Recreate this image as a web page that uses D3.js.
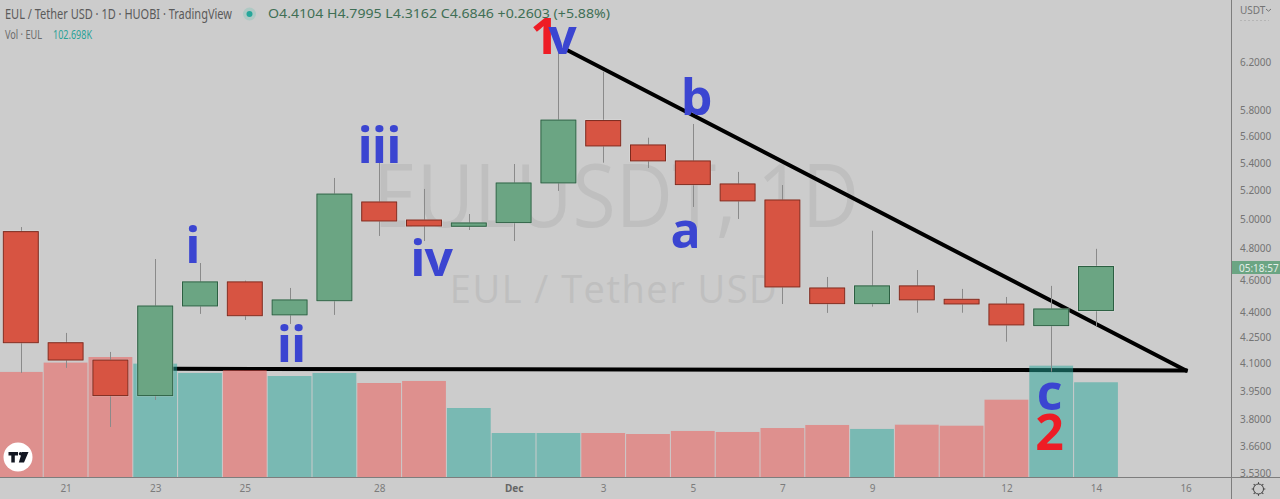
<!DOCTYPE html>
<html>
<head>
<meta charset="utf-8">
<script src="https://cdn.jsdelivr.net/npm/d3@7"></script>
<style>
html, body { margin: 0; padding: 0; background: #cccccc; overflow: hidden; }
svg { display: block; font-family: "Noto Sans", sans-serif; }
</style>
</head>
<body>
<svg></svg>
<script>
var width = 1280, height = 499;

// one candle per day, Nov 20 to Dec 14
var open   = [4.914, 4.220, 4.121, 3.925, 4.438, 4.587, 4.384, 4.470, 5.118, 4.993, 4.950, 4.975, 5.253, 5.722, 5.534, 5.414, 5.246, 5.132, 4.549, 4.452, 4.562, 4.479, 4.450, 4.320, 4.4104];
var high   = [4.945, 4.277, 4.167, 4.733, 4.707, 4.595, 4.549, 5.289, 5.399, 5.210, 5.034, 5.391, 6.320, 6.118, 5.589, 5.695, 5.333, 5.238, 4.618, 4.920, 4.662, 4.543, 4.493, 4.562, 4.7995];
var low    = [4.049, 4.077, 3.760, 3.902, 4.390, 4.354, 4.330, 4.384, 4.885, 4.851, 4.925, 4.851, 5.196, 5.401, 5.362, 5.083, 5.000, 4.450, 4.396, 4.434, 4.397, 4.397, 4.226, 4.056, 4.3162];
var close  = [4.220, 4.121, 3.925, 4.438, 4.587, 4.379, 4.475, 5.174, 4.986, 4.952, 4.973, 5.253, 5.726, 5.526, 5.414, 5.241, 5.125, 4.555, 4.452, 4.562, 4.475, 4.450, 4.324, 4.420, 4.6846];
var volume = [113.9, 124.0, 130.1, 122.9, 112.8, 116.0, 109.5, 112.8, 101.9, 104.1, 74.8, 47.7, 47.7, 47.7, 46.6, 49.9, 48.8, 53.1, 56.4, 52.1, 56.7, 55.6, 83.8, 120.7, 102.698];
// volume colour
var volumeUp = [0, 0, 0, 1, 1, 0, 1, 1, 0, 0, 1, 1, 1, 0, 0, 0, 0, 0, 0, 1, 0, 0, 0, 1, 1];

var priceTicks = [6.2, 5.8, 5.6, 5.4, 5.2, 5.0, 4.8, 4.6, 4.4, 4.25, 4.1, 3.95, 3.8, 3.66, 3.53];
var dayTicks = [1, 3, 5, 8, 11, 13, 15, 17, 19, 22, 24, 26];
var dayLabels = ["21", "23", "25", "28", "Dec", "3", "5", "7", "9", "12", "14", "16"];

// hand drawn trend lines, [day index, price]
var topLine = [[12.19, 6.303], [26, 4.063]];
var baseLine = [[3.4, 4.072], [26, 4.063]];

var red = "#d75442", redEdge = "#7c2a1e", green = "#6ba583", greenEdge = "#2c5f42";

var svg = d3.select("svg").attr("width", width).attr("height", height);

var x = d3.scaleLinear().domain([0, 26]).range([20.8, 1185.6]);
var y = d3.scaleLog().domain([3.53, 6.2]).range([473, 62]);
var yVol = d3.scaleLinear().domain([0, 130.1]).range([477, 357]);

svg.append("rect").attr("width", width).attr("height", height).attr("fill", "#cccccc");

// watermark
svg.append("text").attr("x", 373).attr("y", 227)
    .attr("font-family", "Open Sans").attr("font-size", 88).attr("fill", "#bfbfbf")
    .attr("textLength", 486).attr("lengthAdjust", "spacingAndGlyphs")
    .text("EULUSDT, 1D");
svg.append("text").attr("x", 614).attr("y", 303).attr("text-anchor", "middle")
    .attr("font-family", "Open Sans").attr("font-size", 38).attr("fill", "#bfbfbf")
    .attr("letter-spacing", 1.5)
    .text("EUL / Tether USD");

// trend lines go under the volume bars
var line = d3.line().x(function(d){ return x(d[0]); }).y(function(d){ return y(d[1]); });
[topLine, baseLine].forEach(function(l){
    svg.append("path").attr("d", line(l)).attr("fill", "none")
        .attr("stroke", "#000").attr("stroke-width", 4).attr("stroke-linecap", "square");
});

var days = d3.range(open.length);
var barW = x(1) - x(0);

svg.selectAll("rect.vol").data(days).enter().append("rect")
    .attr("class", "vol")
    .attr("x", function(i){ return x(i) - barW / 2 + 0.5; })
    .attr("width", barW - 1)
    .attr("y", function(i){ return yVol(volume[i]); })
    .attr("height", function(i){ return yVol(0) - yVol(volume[i]); })
    .attr("fill", function(i){ return volumeUp[i] ? "#26a69a" : "#ef5350"; })
    .attr("fill-opacity", 0.5);

svg.selectAll("line.wick").data(days).enter().append("line")
    .attr("class", "wick")
    .attr("x1", function(i){ return Math.round(x(i)) + 0.5; })
    .attr("x2", function(i){ return Math.round(x(i)) + 0.5; })
    .attr("y1", function(i){ return y(high[i]); })
    .attr("y2", function(i){ return y(low[i]); })
    .attr("stroke", "#8a8a8a").attr("stroke-width", 1);

var bodyW = 35;
// pale halo round every body
svg.selectAll("rect.halo").data(days).enter().append("rect")
    .attr("class", "halo")
    .attr("x", function(i){ return x(i) - bodyW / 2 - 1; })
    .attr("width", bodyW + 2)
    .attr("y", function(i){ return y(Math.max(open[i], close[i])) - 1; })
    .attr("height", function(i){ return Math.abs(y(open[i]) - y(close[i])) + 2; })
    .attr("fill", "#fff").attr("fill-opacity", 0.35);
svg.selectAll("rect.body").data(days).enter().append("rect")
    .attr("class", "body")
    .attr("x", function(i){ return x(i) - bodyW / 2; })
    .attr("width", bodyW)
    .attr("y", function(i){ return y(Math.max(open[i], close[i])); })
    .attr("height", function(i){ return Math.abs(y(open[i]) - y(close[i])); })
    .attr("fill", function(i){ return close[i] >= open[i] ? green : red; })
    .attr("stroke", function(i){ return close[i] >= open[i] ? greenEdge : redEdge; })
    .attr("stroke-width", 1);

// wave labels
var blue = "#3b45d1";
var marks = [
    ["i", 192.5, 263, blue], ["ii", 291, 362, blue], ["iii", 379, 163, blue], ["iv", 431, 276, blue],
    ["1", 544, 54, "#ee1c25"], ["v", 562, 54, blue], ["b", 696, 115, blue], ["a", 685, 248, blue],
    ["c", 1049, 410, blue], ["2", 1049, 450, "#ee1c25"]
];
svg.selectAll("text.mark").data(marks).enter().append("text")
    .attr("class", "mark")
    .attr("x", function(d){ return d[1]; })
    .attr("y", function(d){ return d[2]; })
    .attr("text-anchor", "middle")
    .attr("font-family", "Open Sans").attr("font-weight", 700).attr("font-size", 50)
    .attr("letter-spacing", -1)
    .attr("fill", function(d){ return d[3]; })
    .text(function(d){ return d[0]; });

// TradingView badge
var badge = svg.append("g").attr("transform", "translate(18,457)");
badge.append("circle").attr("r", 14.5).attr("fill", "#fff");
badge.append("path").attr("fill", "#131722")
    .attr("d", "M-9.5,-5H0V-1.4H-3.2V5.5H-6.7V-1.4H-9.5Z M4,-5H10.5L6,5.5H0.8Z");
badge.append("circle").attr("cx", 2.6).attr("cy", -3.2).attr("r", 1.8).attr("fill", "#131722");

// axes panels
svg.append("rect").attr("x", 0).attr("y", 477).attr("width", width).attr("height", 22).attr("fill", "#cccccc");
svg.append("line").attr("x1", 0).attr("x2", width).attr("y1", 477.5).attr("y2", 477.5).attr("stroke", "#7d7d7d");
svg.append("line").attr("x1", 1231.5).attr("x2", 1231.5).attr("y1", 0).attr("y2", height).attr("stroke", "#7d7d7d");

var xAxis = svg.append("g").attr("transform", "translate(0,489)")
    .call(d3.axisBottom(x).tickValues(dayTicks).tickSize(0).tickPadding(0)
        .tickFormat(function(d, i){ return dayLabels[i]; }));
xAxis.select(".domain").remove();
xAxis.selectAll("text").attr("dy", "0.32em").attr("font-family", "Noto Sans").attr("font-size", 10)
    .attr("fill", "#7b7b7b")
    .filter(function(d){ return d === 11; }).attr("font-weight", 700).attr("fill", "#666");

var yAxis = svg.append("g").attr("transform", "translate(1231,0)")
    .call(d3.axisRight(y).tickValues(priceTicks).tickSize(0).tickPadding(9)
        .tickFormat(d3.format(".4f")));
yAxis.select(".domain").remove();
yAxis.selectAll("text").attr("font-family", "Noto Sans").attr("font-size", 10).attr("fill", "#747474");
// 3.5300 is cut by the time axis
svg.append("rect").attr("x", 1232).attr("y", 478).attr("width", 48).attr("height", 21).attr("fill", "#cccccc");

svg.append("text").attr("x", 1240).attr("y", 14).attr("font-size", 10).attr("fill", "#747474").text("USDT");
svg.append("path").attr("d", "M1266,9l2.5,2.2l2.5,-2.2").attr("fill", "none").attr("stroke", "#747474");
svg.append("line").attr("x1", 1240).attr("x2", 1269).attr("y1", 20.5).attr("y2", 20.5)
    .attr("stroke", "#b5b5b5").attr("stroke-dasharray", "2,2");

// countdown tag
svg.append("rect").attr("x", 1232).attr("y", 261).attr("width", 48).attr("height", 13).attr("fill", "#6ba583");
svg.append("text").attr("x", 1239).attr("y", 272).attr("font-size", 10).attr("fill", "#e3eee8").text("05:18:57");

// gear
var gear = svg.append("g").attr("transform", "translate(1258.5,489)");
gear.append("circle").attr("r", 5).attr("fill", "none").attr("stroke", "#444").attr("stroke-width", 1);
d3.range(8).forEach(function(k){
    gear.append("line").attr("x1", 5).attr("x2", 6.8).attr("stroke", "#444")
        .attr("transform", "rotate(" + k * 45 + ")");
});

// legend
svg.append("text").attr("x", 5).attr("y", 19).attr("font-size", 14.5).attr("fill", "#5a5a5a")
    .attr("textLength", 227).attr("lengthAdjust", "spacingAndGlyphs")
    .text("EUL / Tether USD · 1D · HUOBI · TradingView");
svg.append("circle").attr("cx", 249.5).attr("cy", 14).attr("r", 6.5).attr("fill", "#aec9c4");
svg.append("circle").attr("cx", 249.5).attr("cy", 14).attr("r", 3).attr("fill", "#26a69a");
svg.append("text").attr("x", 268).attr("y", 18).attr("font-size", 12).attr("fill", "#3f6f55")
    .attr("textLength", 342).attr("lengthAdjust", "spacingAndGlyphs")
    .text("O4.4104 H4.7995 L4.3162 C4.6846 +0.2603 (+5.88%)");
svg.append("text").attr("x", 5).attr("y", 39).attr("font-size", 12).attr("fill", "#6b6b6b")
    .attr("textLength", 37).attr("lengthAdjust", "spacingAndGlyphs").text("Vol · EUL");
svg.append("text").attr("x", 53).attr("y", 39).attr("font-size", 12).attr("fill", "#2ba297")
    .attr("textLength", 39).attr("lengthAdjust", "spacingAndGlyphs").text("102.698K");
</script>
</body>
</html>
